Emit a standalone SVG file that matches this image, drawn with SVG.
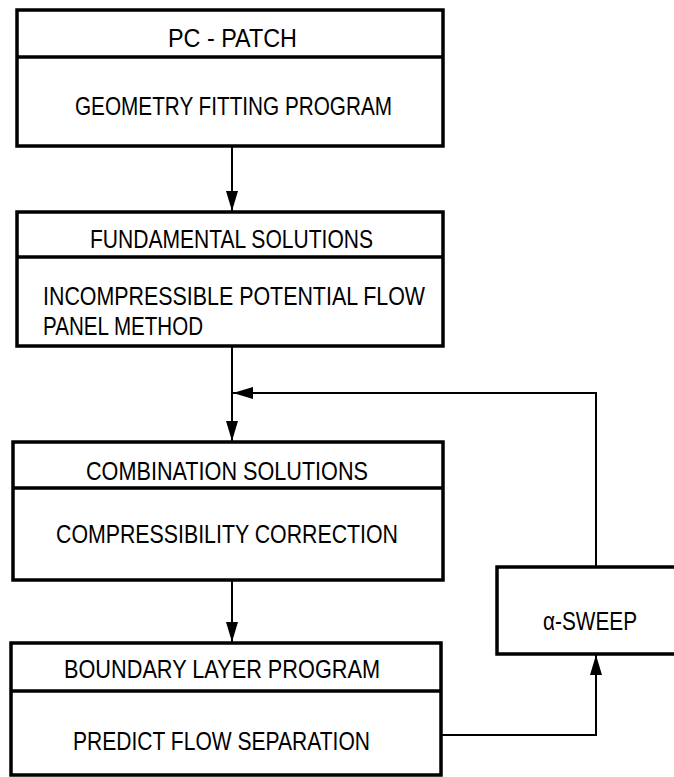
<svg xmlns="http://www.w3.org/2000/svg" width="674" height="777" viewBox="0 0 674 777">
<style>
.box{fill:none;stroke:#000;stroke-width:3.5}
.div{stroke:#000;stroke-width:3.5}
.t{font-family:"Liberation Sans",Arial,sans-serif;font-size:26px;fill:#000}
.c{fill:none;stroke:#000;stroke-width:2}
</style>
<defs>
<marker id="ah" viewBox="0 0 20 12" refX="20" refY="6" markerWidth="20" markerHeight="12" markerUnits="userSpaceOnUse" orient="auto">
<path d="M0,0 L20,6 L0,12 Z" fill="#000"/>
</marker>
</defs>
<rect width="674" height="777" fill="#fff"/>
<g id="pcpatch">
<rect class="box" x="17" y="10" width="426" height="136"/>
<line class="div" x1="17" y1="57" x2="443" y2="57"/>
<text class="t" x="168" y="47" textLength="129" lengthAdjust="spacingAndGlyphs">PC - PATCH</text>
<text class="t" x="75" y="115" textLength="317" lengthAdjust="spacingAndGlyphs">GEOMETRY FITTING PROGRAM</text>
</g>
<g id="fundamental">
<rect class="box" x="17" y="212" width="426" height="134"/>
<line class="div" x1="17" y1="257" x2="443" y2="257"/>
<text class="t" x="90" y="248" textLength="283" lengthAdjust="spacingAndGlyphs">FUNDAMENTAL SOLUTIONS</text>
<text class="t" x="43" y="305" textLength="382" lengthAdjust="spacingAndGlyphs">INCOMPRESSIBLE POTENTIAL FLOW</text>
<text class="t" x="43" y="335" textLength="160" lengthAdjust="spacingAndGlyphs">PANEL METHOD</text>
</g>
<g id="combination">
<rect class="box" x="13" y="442" width="430" height="138"/>
<line class="div" x1="13" y1="488" x2="443" y2="488"/>
<text class="t" x="86" y="480" textLength="282" lengthAdjust="spacingAndGlyphs">COMBINATION SOLUTIONS</text>
<text class="t" x="56" y="543" textLength="342" lengthAdjust="spacingAndGlyphs">COMPRESSIBILITY CORRECTION</text>
</g>
<g id="boundary">
<rect class="box" x="11" y="643" width="430" height="132"/>
<line class="div" x1="11" y1="691" x2="441" y2="691"/>
<text class="t" x="64" y="678" textLength="316" lengthAdjust="spacingAndGlyphs">BOUNDARY LAYER PROGRAM</text>
<text class="t" x="73" y="750" textLength="297" lengthAdjust="spacingAndGlyphs">PREDICT FLOW SEPARATION</text>
</g>
<g id="sweep">
<path class="box" d="M680,567 H497 V654 H680"/>
<text class="t" x="543" y="630" textLength="94" lengthAdjust="spacingAndGlyphs">α-SWEEP</text>
</g>
<g id="connectors">
<line class="c" x1="232" y1="146" x2="232" y2="211" marker-end="url(#ah)"/>
<line class="c" x1="232" y1="346" x2="232" y2="441" marker-end="url(#ah)"/>
<line class="c" x1="232" y1="580" x2="232" y2="642" marker-end="url(#ah)"/>
<path class="c" d="M441,735 H596 V655" marker-end="url(#ah)"/>
<path class="c" d="M596,567 V393 H233" marker-end="url(#ah)"/>
</g>
</svg>
